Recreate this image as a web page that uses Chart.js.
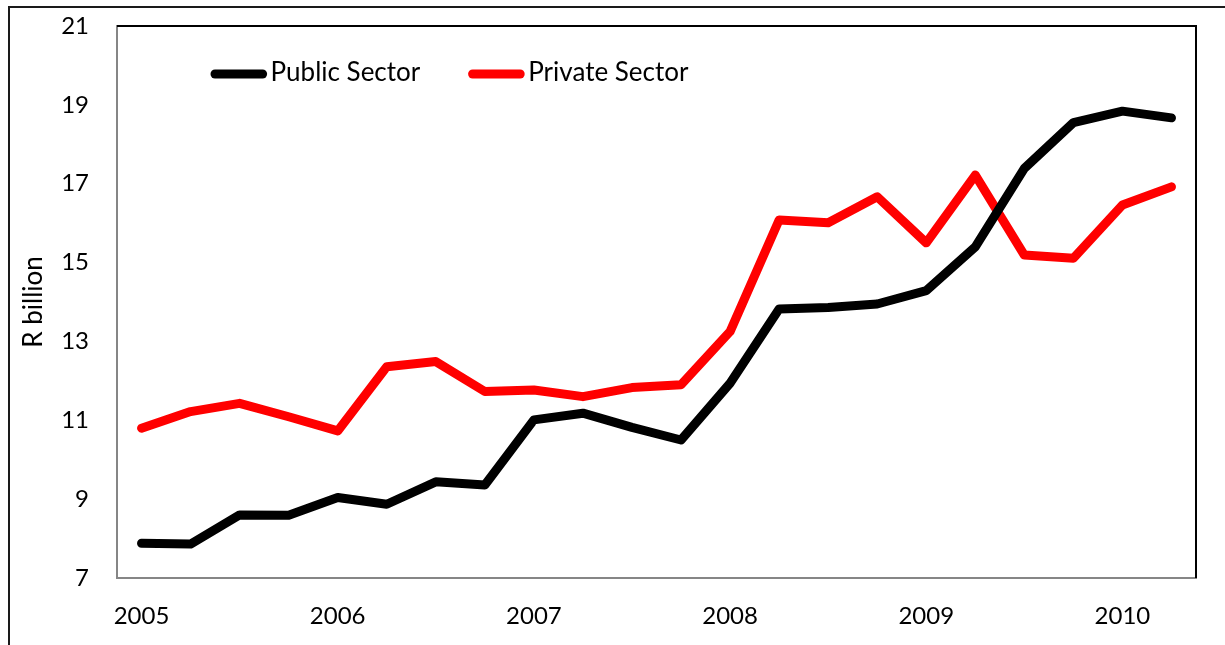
<!DOCTYPE html>
<html>
<head>
<meta charset="utf-8">
<script src="https://cdn.jsdelivr.net/npm/chart.js@4.4.1/dist/chart.umd.min.js"></script>
<style>
  html, body { margin: 0; padding: 0; background: #fff; }
  #wrap { position: relative; width: 1225px; height: 645px; overflow: hidden; }
  #frame {
    position: absolute; left: 8px; top: 6px; width: 1300px; height: 700px;
    border-left: 2px solid #1a1a1a; border-top: 2px solid #1a1a1a;
  }
  canvas { position: absolute; left: 0; top: 0; }
</style>
</head>
<body>
<div id="wrap">
  <div id="frame"></div>
  <canvas id="chart" width="1225" height="645"></canvas>
</div>
<script>
// quarterly investment, R billion
const quarters = [
  "2005 Q1", "2005 Q2", "2005 Q3", "2005 Q4",
  "2006 Q1", "2006 Q2", "2006 Q3", "2006 Q4",
  "2007 Q1", "2007 Q2", "2007 Q3", "2007 Q4",
  "2008 Q1", "2008 Q2", "2008 Q3", "2008 Q4",
  "2009 Q1", "2009 Q2", "2009 Q3", "2009 Q4",
  "2010 Q1", "2010 Q2"
];
const publicSector = [
  7.88, 7.86, 8.60, 8.59, 9.04, 8.87, 9.44, 9.36,
  11.01, 11.18, 10.82, 10.50, 11.94, 13.82, 13.86, 13.95,
  14.29, 15.40, 17.39, 18.55, 18.84, 18.67
];
const privateSector = [
  10.80, 11.22, 11.43, 11.09, 10.73, 12.36, 12.49, 11.73,
  11.77, 11.60, 11.83, 11.90, 13.25, 16.08, 16.01, 16.67,
  15.50, 17.22, 15.19, 15.11, 16.46, 16.92
];
const yMin = 7, yMax = 21, yStep = 2;
const yTitle = "R billion";

const FONT = "Lato, 'Open Sans', sans-serif";
Chart.defaults.font.family = FONT;
Chart.defaults.font.size = 24;
Chart.defaults.color = "#000";

// black top/right edges of the plot box (left/bottom come from the axes)
const plotFrame = {
  id: "plotFrame",
  beforeDatasetsDraw(chart) {
    const { ctx, chartArea: a } = chart;
    ctx.save();
    ctx.strokeStyle = "#000";
    ctx.lineWidth = 2;
    ctx.beginPath();
    ctx.moveTo(a.left, a.top);
    ctx.lineTo(a.right, a.top);
    ctx.lineTo(a.right, a.bottom);
    ctx.stroke();
    ctx.restore();
  }
};

// legend drawn inside the plot, one line sample + label per series
const lineLegend = {
  id: "lineLegend",
  afterDraw(chart, args, opts) {
    const { ctx, chartArea: a } = chart;
    ctx.save();
    ctx.font = opts.size + "px " + FONT;
    ctx.textBaseline = "alphabetic";
    ctx.textAlign = "left";
    chart.data.datasets.forEach((ds, i) => {
      const x = a.left + opts.x + i * opts.step;
      ctx.strokeStyle = ds.borderColor;
      ctx.lineWidth = ds.borderWidth;
      ctx.lineCap = "round";
      ctx.beginPath();
      ctx.moveTo(x, opts.y);
      ctx.lineTo(x + opts.len, opts.y);
      ctx.stroke();
      ctx.fillStyle = "#000";
      ctx.fillText(ds.label, x + opts.len + opts.gap, opts.y + opts.baseline);
    });
    ctx.restore();
  }
};

new Chart(document.getElementById("chart"), {
  type: "line",
  data: {
    labels: quarters,
    datasets: [
      {
        label: "Public Sector",
        data: publicSector,
        borderColor: "#000000",
        borderWidth: 9,
        borderCapStyle: "round",
        borderJoinStyle: "round",
        pointRadius: 0,
        tension: 0
      },
      {
        label: "Private Sector",
        data: privateSector,
        borderColor: "#ff0000",
        borderWidth: 9,
        borderCapStyle: "round",
        borderJoinStyle: "round",
        pointRadius: 0,
        tension: 0
      }
    ]
  },
  options: {
    responsive: false,
    animation: false,
    devicePixelRatio: 1,
    layout: { padding: { top: 26, right: 29, left: 0, bottom: 0 } },
    plugins: {
      legend: { display: false },
      tooltip: { enabled: false },
      lineLegend: { x: 98, step: 257.6, len: 47.6, gap: 8, y: 74, baseline: 7, size: 26 }
    },
    scales: {
      x: {
        offset: true,
        grid: { display: false, drawTicks: false },
        border: { display: true, color: "#868686", width: 2 },
        ticks: {
          autoSkip: false,
          maxRotation: 0,
          padding: 24,
          callback: (v, i) => (i % 4 === 0 ? quarters[i].slice(0, 4) : "")
        },
        afterFit: (s) => {
          s.height = 67;
          s.paddingLeft = 0;
          s.paddingRight = 0;
        }
      },
      y: {
        min: yMin,
        max: yMax,
        grid: { display: false, drawTicks: false },
        border: { display: true, color: "#868686", width: 2 },
        ticks: { stepSize: yStep, padding: 28 },
        title: {
          display: true,
          text: yTitle,
          font: { size: 26 },
          padding: { top: 18, bottom: 0 }
        },
        afterFit: (s) => {
          s.width = 117;
          s.paddingTop = 0;
          s.paddingBottom = 0;
        }
      }
    }
  },
  plugins: [plotFrame, lineLegend]
});
</script>
</body>
</html>
